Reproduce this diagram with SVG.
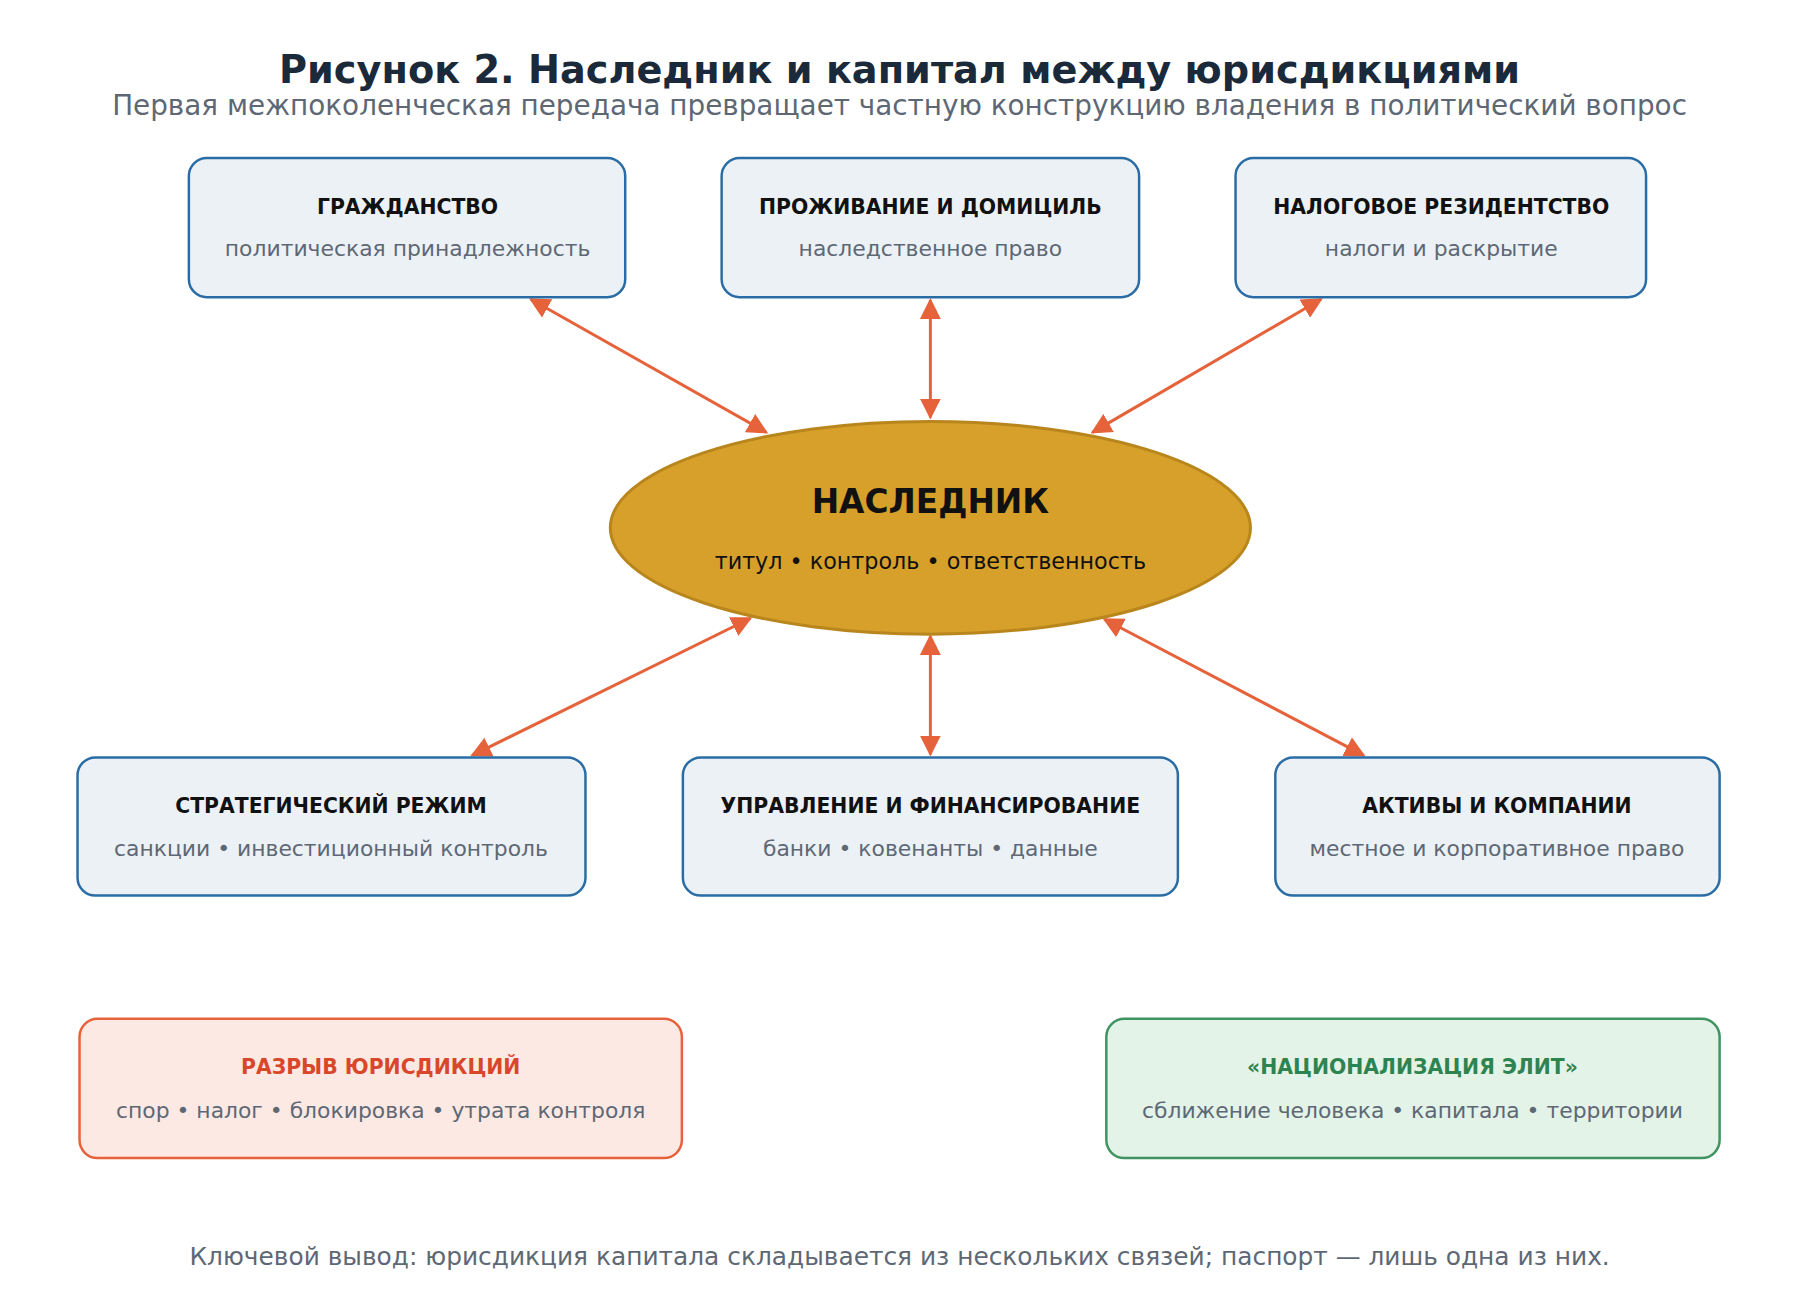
<svg xmlns="http://www.w3.org/2000/svg" width="1800" height="1312" viewBox="0 0 1800 1312">
<defs>
<marker id="ah" viewBox="0 0 10 10" refX="9" refY="5" markerWidth="7" markerHeight="7" orient="auto-start-reverse"><path d="M0,0L10,5L0,10z" fill="#e5623a"/></marker>
<style>
text{font-family:"DejaVu Sans","Noto Sans",sans-serif;text-anchor:middle}
.box{fill:#ecf1f5;stroke:#2a6da6;stroke-width:2.5}
.t{font-size:20.5px;font-weight:bold;fill:#111}
.s{font-size:22px;fill:#5e6875}
.c{stroke:#e5623a;stroke-width:3;fill:none;marker-start:url(#ah);marker-end:url(#ah)}
</style>
</defs>
<rect width="1800" height="1312" fill="#fff"/>
<g transform="scale(0.994)">
<text x="905" y="84" font-size="38.5" font-weight="bold" fill="#1b2a3a">Рисунок 2. Наследник и капитал между юрисдикциями</text>
<text x="905" y="116" font-size="28" fill="#5e6875">Первая межпоколенческая передача превращает частную конструкцию владения в политический вопрос</text>
<g id="connectors">
<line class="c" x1="534" y1="301" x2="771" y2="435"/>
<line class="c" x1="936" y1="302" x2="936" y2="420"/>
<line class="c" x1="1329" y1="301" x2="1099" y2="435"/>
<line class="c" x1="755" y1="622" x2="475" y2="760"/>
<line class="c" x1="936" y1="640" x2="936" y2="759"/>
<line class="c" x1="1111" y1="623" x2="1372" y2="760"/>
</g>
<g id="n1"><rect class="box" x="190" y="159" width="439" height="140" rx="18"/><text class="t" x="410" y="215">ГРАЖДАНСТВО</text><text class="s" x="410" y="258">политическая принадлежность</text></g>
<g id="n2"><rect class="box" x="726" y="159" width="420" height="140" rx="18"/><text class="t" x="936" y="215">ПРОЖИВАНИЕ И ДОМИЦИЛЬ</text><text class="s" x="936" y="258">наследственное право</text></g>
<g id="n3"><rect class="box" x="1243" y="159" width="413" height="140" rx="18"/><text class="t" x="1450" y="215">НАЛОГОВОЕ РЕЗИДЕНТСТВО</text><text class="s" x="1450" y="258">налоги и раскрытие</text></g>
<g id="heir"><ellipse cx="936" cy="531" rx="322" ry="107" fill="#d6a02a" stroke="#b8861c" stroke-width="3"/><text x="936" y="516" font-size="33" font-weight="bold" fill="#111">НАСЛЕДНИК</text><text x="936" y="572" font-size="22.4" fill="#111">титул • контроль • ответственность</text></g>
<g id="n4"><rect class="box" x="78" y="762" width="511" height="139" rx="18"/><text class="t" x="333" y="818">СТРАТЕГИЧЕСКИЙ РЕЖИМ</text><text class="s" x="333" y="861">санкции • инвестиционный контроль</text></g>
<g id="n5"><rect class="box" x="687" y="762" width="498" height="139" rx="18"/><text class="t" x="936" y="818">УПРАВЛЕНИЕ И ФИНАНСИРОВАНИЕ</text><text class="s" x="936" y="861">банки • ковенанты • данные</text></g>
<g id="n6"><rect class="box" x="1283" y="762" width="447" height="139" rx="18"/><text class="t" x="1506" y="818">АКТИВЫ И КОМПАНИИ</text><text class="s" x="1506" y="861">местное и корпоративное право</text></g>
<g id="gap"><rect x="80" y="1025" width="606" height="140" rx="18" fill="#fde9e3" stroke="#e5623a" stroke-width="2.5"/><text class="t" x="383" y="1081" style="fill:#d9472a">РАЗРЫВ ЮРИСДИКЦИЙ</text><text class="s" x="383" y="1125">спор • налог • блокировка • утрата контроля</text></g>
<g id="nat"><rect x="1113" y="1025" width="617" height="140" rx="18" fill="#e3f3e7" stroke="#3f9460" stroke-width="2.5"/><text class="t" x="1421" y="1081" style="fill:#2e8450">«НАЦИОНАЛИЗАЦИЯ ЭЛИТ»</text><text class="s" x="1421" y="1125">сближение человека • капитала • территории</text></g>
<text x="905" y="1273" font-size="25" fill="#5e6875">Ключевой вывод: юрисдикция капитала складывается из нескольких связей; паспорт — лишь одна из них.</text>
</g>
</svg>
